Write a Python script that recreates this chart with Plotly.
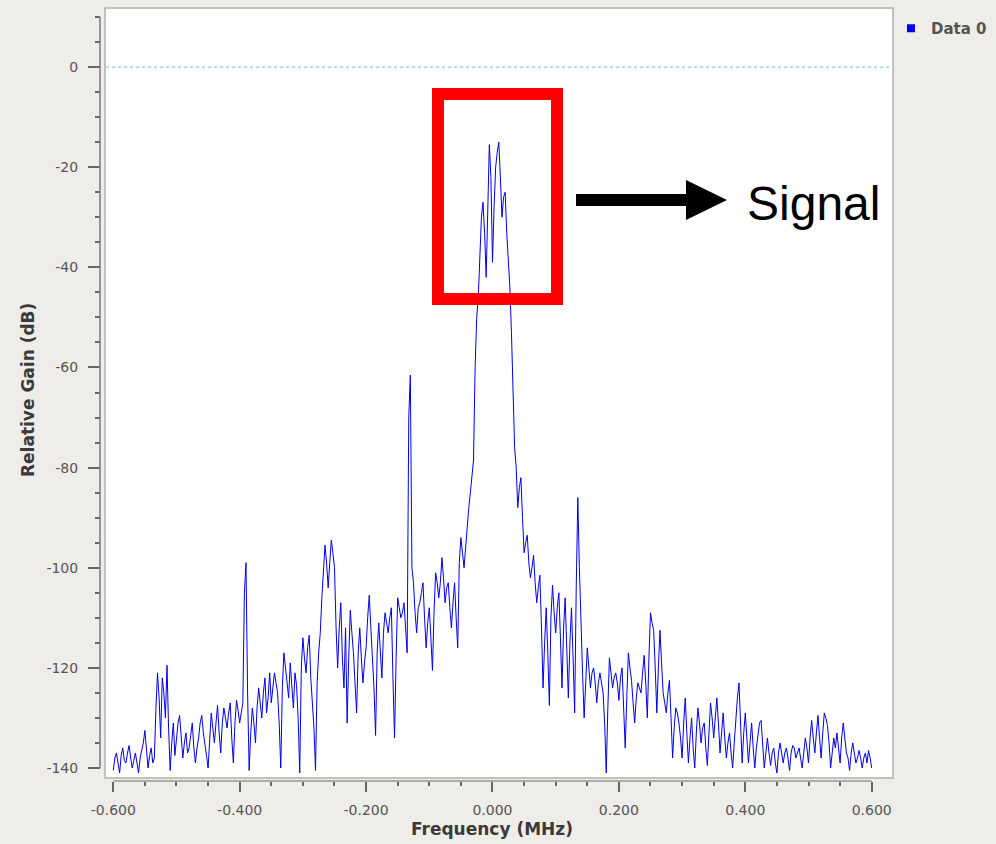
import plotly.graph_objects as go

# ---------------- data ----------------
# FFT bins every 0.0025 MHz from -0.6 to 0.6 MHz,
# stored as the bins on the 0.005 MHz grid and the bins half-way between them.
f_start_mhz = -0.6
f_step_mhz = 0.0025

gain_grid_db = [
    # -0.600 .. -0.555
    -140.5, -137, -141, -136, -139, -135.5, -140, -137, -141, -136.5,
    # -0.550 .. -0.505
    -132.5, -140, -136, -138, -121, -134, -125, -119.5, -140.5, -131,
    # -0.500 .. -0.455
    -134, -129.5, -138, -133, -136, -131, -139, -134, -129.5, -135,
    # -0.450 .. -0.405
    -140, -129, -135, -127.5, -137, -128, -132, -127, -139, -126.5,
    # -0.400 .. -0.355
    -131, -127, -99, -140.5, -128, -135, -124, -130, -122, -126,
    # -0.350 .. -0.305
    -127, -121, -125, -140, -117, -123, -119, -128, -123.5, -141,
    # -0.300 .. -0.255
    -114, -121, -113.5, -127, -140.5, -117, -106, -95.5, -104, -94.5,
    # -0.250 .. -0.205
    -100, -120, -107, -124, -131, -108.5, -117, -129, -112, -123,
    # -0.200 .. -0.155
    -116, -105.5, -118, -133.5, -111, -122, -109, -113, -108, -134,
    # -0.150 .. -0.105
    -106, -110, -107, -117, -61.5, -103, -113, -107, -103, -116,
    # -0.100 .. -0.055
    -108, -120.5, -101, -106, -98, -107, -103, -112, -103, -116,
    # -0.050 .. -0.005
    -94, -100, -91, -85, -78.5, -50, -38, -27, -42, -15.5,
    # 0.000 .. 0.030
    -39, -20, -15, -30, -25, -38, -53,
    # 0.035 .. 0.300
    -76, -88, -82, -97, -93.5, -102, -97.5, -107, -101.5, -124,
    -108, -127.5, -103.5, -113, -105, -124, -106, -126, -108, -129,
    -86, -112.5, -130, -116, -124, -120, -127, -121, -125, -141,
    -118, -124, -121, -126.5, -120, -136, -117, -122.5, -131, -123,
    -125, -117.5, -130, -109, -112.5, -129, -112.5, -125, -129, -122.5,
    -138, -128, -131, -138,
    # 0.305 .. 0.600
    -126, -139, -130, -140, -128, -135, -131, -139.5, -127, -134,
    -126, -137, -129, -138, -133, -140, -130, -123, -139, -129,
    -139, -131, -140, -133, -130.5, -140, -134, -139.5, -136, -141,
    -135, -139, -136, -140.5, -135.5, -138, -136, -140, -134, -139,
    -130.5, -137, -129.5, -138, -129, -131.5, -140, -134, -133, -139,
    -131, -137, -140.5, -135, -139, -136.5, -140, -137, -136.5, -140,
]
gain_half_db = [
    # -0.5975 .. -0.5525
    -138, -139.5, -137.5, -138.5, -137, -138, -138.5, -139, -138, -135,
    -137, -137.5, -139, -128, -126, -122, -130, -132, -135, -137.5,
    -131, -134, -135, -137, -133.5, -136, -136, -131, -133, -137.5,
    -134, -132, -131, -133, -131, -130, -129, -134, -131, -128.5,
    -129, -105, -125, -133, -131, -128, -127, -125, -129, -121,
    -124, -123, -131, -124, -120, -126, -124, -121, -130, -120,
    -118, -116, -122, -132, -123, -113, -101, -99, -99, -97,
    -112, -112, -118, -112, -118, -113, -123, -117, -118, -119,
    -110, -112, -124, -117, -116, -113, -111, -110, -122, -118,
    -108, -109, -112, -70, -100, -109, -108, -105, -110, -111,
    -114, -109, -103, -103, -102, -104, -108, -107, -110, -99,
    -97, -96, -88, -82, -60, -46, -30, -33, -25, -22,
    # 0.0025 .. 0.0325
    -28, -17, -22, -26, -33, -44, -64,
    # 0.0375 ..
    -80, -84, -90, -95, -99, -100, -103, -104, -112, -115,
    -117, -110, -109, -108, -114, -112, -116, -115, -118, -104,
    -100, -121, -121, -120, -121, -123, -123, -123, -131, -128,
    -121, -122, -123, -122, -128, -126, -120, -127, -126, -124,
    -121, -123, -118, -111, -120, -120, -119, -127, -125, -130,
    -132, -129, -134, -131, -133, -134, -136, -133, -131, -132,
    -136, -133, -130, -130, -131, -133, -134, -135, -137, -135,
    -126, -131, -133, -134, -135, -136, -136, -131, -136, -137,
    -137, -137, -139, -137, -137, -137, -138, -137, -136, -137,
    -138, -137, -136, -134, -134, -133, -134, -133, -130, -135,
    -137, -136, -136, -134, -134, -138, -137, -137, -138, -138,
    -138, -139, -138,
]

gain_db = []
for k, v in enumerate(gain_grid_db):
    gain_db.append(v)
    if k < len(gain_half_db):
        gain_db.append(gain_half_db[k])
freq_mhz = [round(f_start_mhz + f_step_mhz * i, 5) for i in range(len(gain_db))]

x_tick_vals = [-0.6, -0.4, -0.2, 0.0, 0.2, 0.4, 0.6]
x_tick_text = ["-0.600", "-0.400", "-0.200", "0.000", "0.200", "0.400", "0.600"]
x_minor_vals = [-0.55, -0.5, -0.45, -0.35, -0.3, -0.25, -0.15, -0.1, -0.05,
                0.05, 0.1, 0.15, 0.25, 0.3, 0.35, 0.45, 0.5, 0.55]
y_tick_vals = [-140, -120, -100, -80, -60, -40, -20, 0]
y_tick_text = ["-140", "-120", "-100", "-80", "-60", "-40", "-20", "0"]
y_minor_vals = [-135, -130, -125, -115, -110, -105, -95, -90, -85, -75, -70, -65,
                -55, -50, -45, -35, -30, -25, -15, -10, -5, 5, 10]

# ---------------- geometry helpers (pixel -> paper) ----------------
W, H = 996, 844
def px(x):
    return x / W
def py(y):
    return 1 - y / H

fig = go.Figure()
fig.add_trace(go.Scatter(
    x=freq_mhz, y=gain_db, mode="lines",
    line=dict(color="rgb(0,0,235)", width=1),
    showlegend=False, hoverinfo="skip",
))
fig.add_trace(go.Scatter(
    x=[None], y=[None], mode="markers", name="Data 0",
    marker=dict(symbol="square", size=8, color="rgb(0,0,235)"),
))

tick_font = dict(family="DejaVu Sans", size=14, color="#555555")

fig.update_layout(
    width=W, height=H,
    margin=dict(l=0, r=0, t=0, b=0, pad=0, autoexpand=False),
    paper_bgcolor="#efedea",
    plot_bgcolor="#ffffff",
    xaxis=dict(
        domain=[px(105), px(893)],
        range=[-0.6131, 0.6337],
        anchor="free", position=py(781), automargin=False,
        showline=False, showgrid=False, zeroline=False,
        ticks="outside", ticklen=10, tickwidth=1.5, tickcolor="#666666",
        tickmode="array", tickvals=x_tick_vals, ticktext=x_tick_text,
        tickfont=tick_font, ticklabelstandoff=6,
        minor=dict(tickmode="array", tickvals=x_minor_vals, ticks="outside",
                   ticklen=4, tickwidth=1.5, tickcolor="#666666", showgrid=False),
    ),
    yaxis=dict(
        domain=[py(778), py(8)],
        range=[-142.0, 11.8],
        anchor="free", position=px(100), automargin=False,
        showline=False, showgrid=False, zeroline=False,
        ticks="outside", ticklen=12, tickwidth=1.5, tickcolor="#666666",
        tickmode="array", tickvals=y_tick_vals, ticktext=y_tick_text,
        tickfont=tick_font, ticklabelstandoff=7,
        minor=dict(tickmode="array", tickvals=y_minor_vals, ticks="outside",
                   ticklen=5, tickwidth=1.5, tickcolor="#666666", showgrid=False),
    ),
    legend=dict(
        x=px(891), y=py(12), xanchor="left", yanchor="top",
        bgcolor="rgba(0,0,0,0)",
        font=dict(family="DejaVu Sans", size=15, color="#555555", weight="bold"),
    ),
)

shapes = []
# canvas frame
shapes.append(dict(type="rect", xref="paper", yref="paper",
                   x0=px(105), x1=px(893), y0=py(778), y1=py(8),
                   line=dict(color="#b0b0b0", width=1.5), layer="above"))
# axis backbones
shapes.append(dict(type="line", xref="paper", yref="y",
                   x0=px(100), x1=px(100), y0=-140, y1=10,
                   line=dict(color="#777777", width=1.5)))
shapes.append(dict(type="line", xref="x", yref="paper",
                   x0=-0.6, x1=0.6, y0=py(781), y1=py(781),
                   line=dict(color="#999999", width=1.5)))
# dotted zero reference line
shapes.append(dict(type="line", xref="paper", yref="y",
                   x0=px(106), x1=px(892), y0=0, y1=0,
                   line=dict(color="#67c1d3", width=1, dash="dot")))
# red highlight rectangle
shapes.append(dict(type="rect", xref="paper", yref="paper",
                   x0=px(438), x1=px(557), y0=py(299), y1=py(94),
                   line=dict(color="#ff0000", width=12)))
# black arrow
pts = [(576, 194), (686, 194), (686, 180), (727, 200), (686, 220), (686, 206), (576, 206)]
path = "M " + " L ".join(f"{px(x):.5f},{py(y):.5f}" for x, y in pts) + " Z"
shapes.append(dict(type="path", xref="paper", yref="paper", path=path,
                   fillcolor="#000000", line=dict(color="#000000", width=0)))
fig.update_layout(shapes=shapes)

fig.add_annotation(text="Signal", x=px(745), y=py(204), xref="paper", yref="paper",
                   xanchor="left", yanchor="middle", showarrow=False,
                   font=dict(family="Liberation Sans, Arial", size=48, color="#000000"))
fig.add_annotation(text="Relative Gain (dB)", x=px(28), y=py(390), xref="paper", yref="paper",
                   xanchor="center", yanchor="middle", showarrow=False, textangle=-90,
                   font=dict(family="DejaVu Sans", size=17, color="#3a3a3a", weight="bold"))
fig.add_annotation(text="Frequency (MHz)", x=px(492), y=py(829), xref="paper", yref="paper",
                   xanchor="center", yanchor="middle", showarrow=False,
                   font=dict(family="DejaVu Sans", size=17, color="#3a3a3a", weight="bold"))

fig.write_html("out.html")
